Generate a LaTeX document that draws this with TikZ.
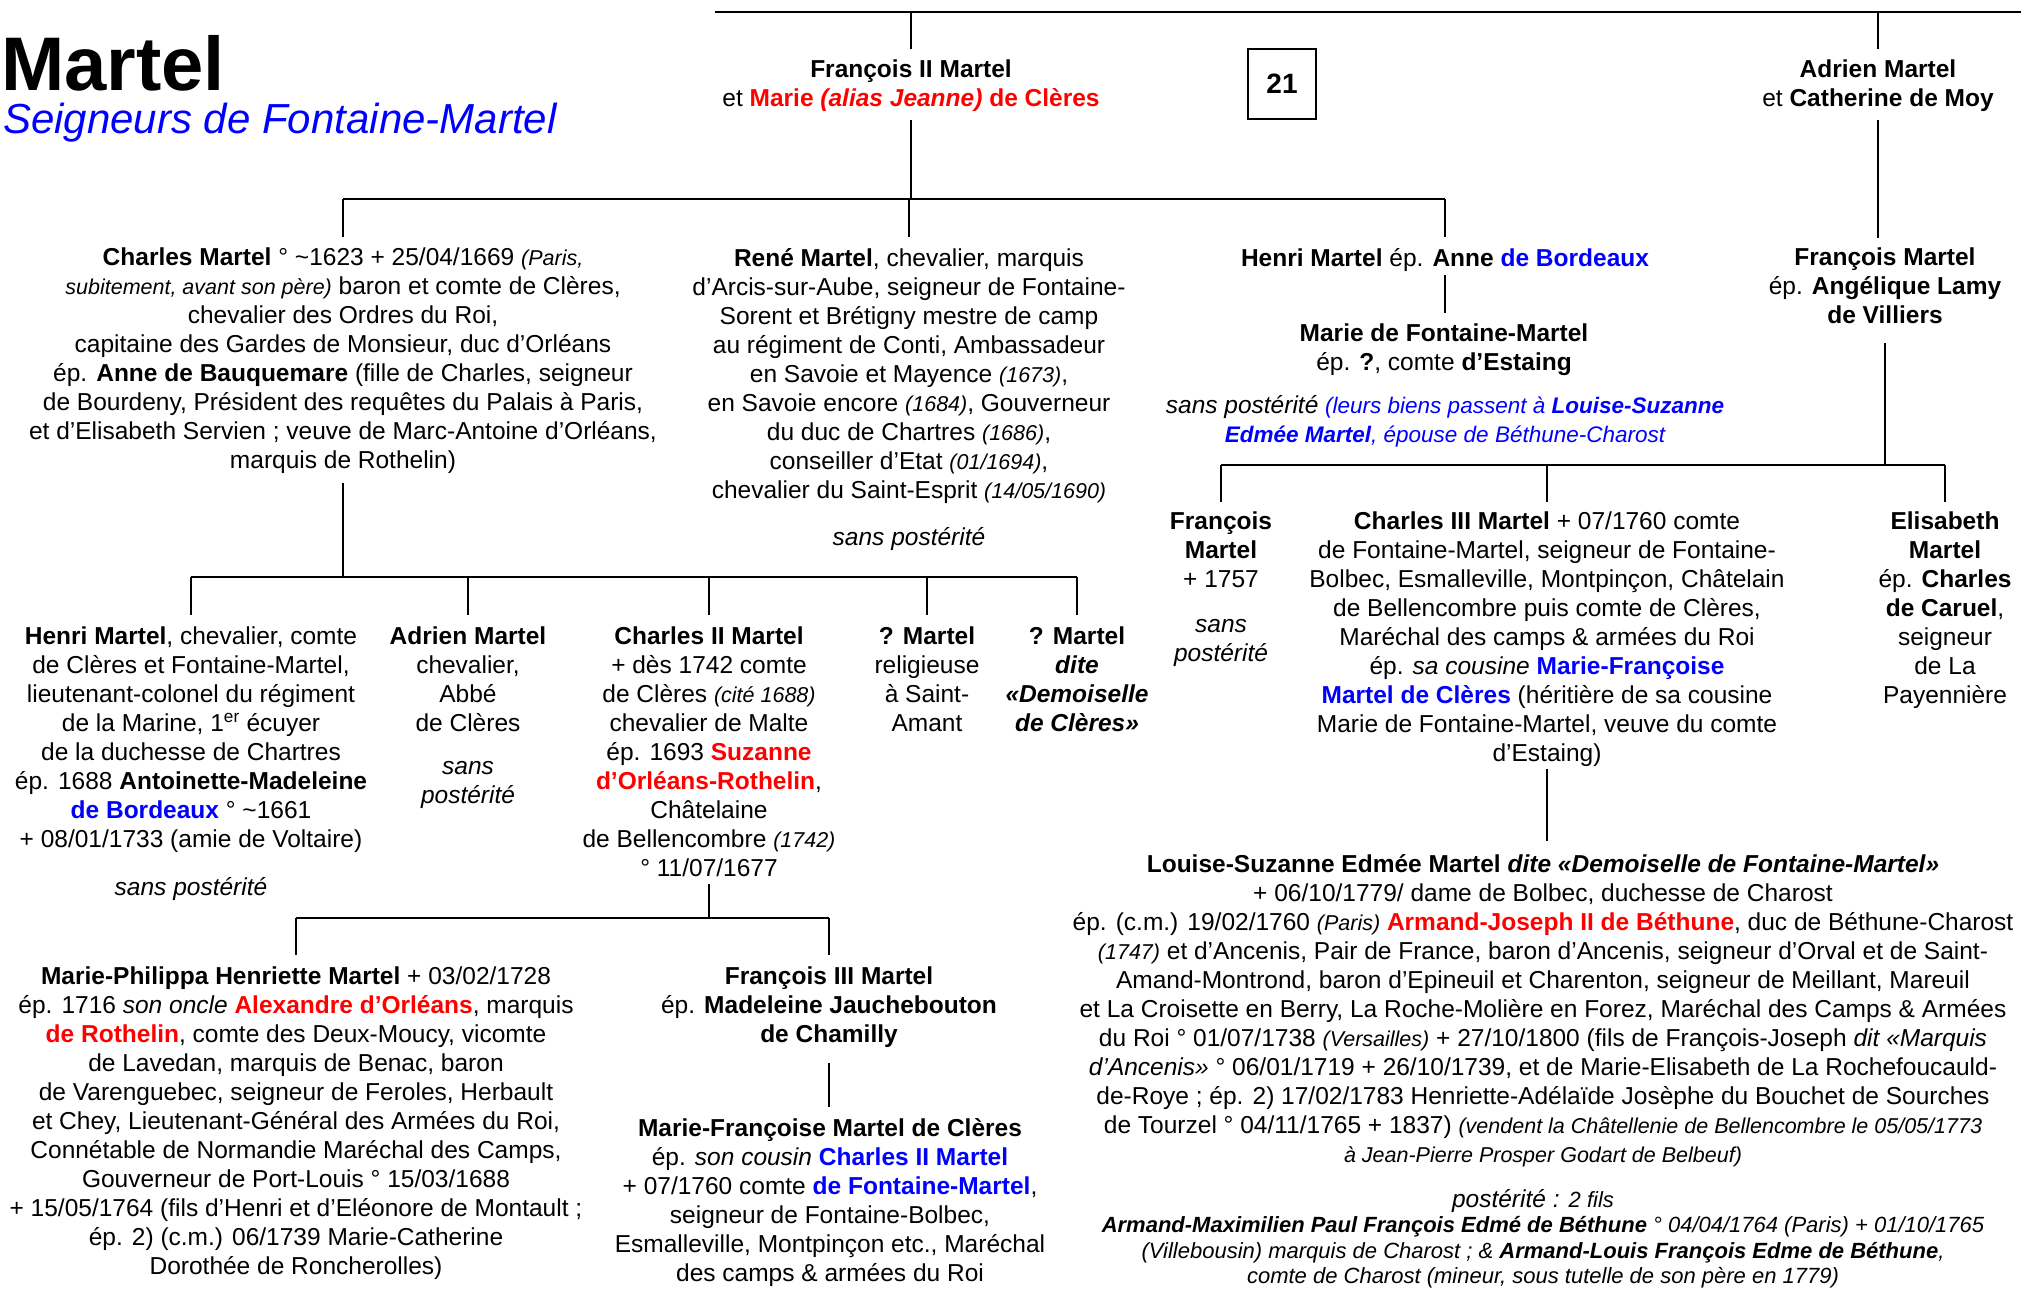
\documentclass[tikz,border=0pt]{standalone}
\usepackage{fontspec}
\setmainfont{Liberation Sans}
\usepackage{xcolor}
\definecolor{myred}{RGB}{255,0,0}
\definecolor{myblue}{RGB}{0,0,255}
\newcommand\fs{\fontsize{24.5}{29}\selectfont}
\newcommand\smit[1]{{\fontsize{21.5}{29}\selectfont\itshape #1}}
\newcommand\blit[1]{{\fontsize{22.5}{29}\selectfont\itshape\color{myblue}#1}}
\newcommand\redb[1]{\textcolor{myred}{\textbf{#1}}}
\newcommand\blueb[1]{\textcolor{myblue}{\textbf{#1}}}

\begin{document}
\begin{tikzpicture}[x=1pt,y=-1pt,
  pers/.style={align=center,inner sep=0pt,anchor=north,font=\fs},
  tree/.style={line width=2.2}]
\useasboundingbox (0,0) rectangle (2021,1288);

\coordinate (topL) at (715,12);
\coordinate (topR) at (2021,12);

\node[anchor=west,inner sep=0pt,font=\fontsize{76}{80}\selectfont\bfseries] (title) at (1,63) {Martel};
\node[anchor=base west,inner sep=0pt,font=\fontsize{42}{48}\selectfont\itshape,text=myblue] (subtitle) at (3,133) {Seigneurs de Fontaine-Martel};

\node[pers] (couple1) at (911,60) {\textbf{François II Martel}\\et \redb{Marie \textit{(alias Jeanne)} de Clères}};
\node[draw,line width=1.2,minimum width=68,minimum height=70,inner sep=0pt,font=\fontsize{28}{32}\selectfont\bfseries] (num) at (1282,84) {21};
\node[pers] (couple2) at (1878,60) {\textbf{Adrien Martel}\\et \textbf{Catherine de Moy}};

\node[pers] (charles) at (343,248) {\textbf{Charles Martel} ° \textasciitilde1623 + 25/04/1669 \smit{(Paris,}\\
  \smit{subitement, avant son père)} baron et comte de Clères,\\
  chevalier des Ordres du Roi,\\
  capitaine des Gardes de Monsieur, duc d’Orléans\\
  ép. \textbf{Anne de Bauquemare} (fille de Charles, seigneur\\
  de Bourdeny, Président des requêtes du Palais à Paris,\\
  et d’Elisabeth Servien ; veuve de Marc-Antoine d’Orléans,\\
  marquis de Rothelin)};
\node[pers] (rene) at (909,248) {\textbf{René Martel}, chevalier, marquis\\
  d’Arcis-sur-Aube, seigneur de Fontaine-\\
  Sorent et Brétigny mestre de camp\\
  au régiment de Conti, Ambassadeur\\
  en Savoie et Mayence \smit{(1673)},\\
  en Savoie encore \smit{(1684)}, Gouverneur\\
  du duc de Chartres \smit{(1686)},\\
  conseiller d’Etat \smit{(01/1694)},\\
  chevalier du Saint-Esprit \smit{(14/05/1690)}};
\node[pers,font=\fs\itshape] (renesp) at (909,527) {sans postérité};
\node[pers] (henri1) at (1445,248) {\textbf{Henri Martel} ép. \textbf{Anne} \blueb{de Bordeaux}};
\node[pers] (mariefm) at (1444,324) {\textbf{Marie de Fontaine-Martel}\\ép. \textbf{?}, comte \textbf{d’Estaing}};
\node[pers] (mfmsp) at (1445,395) {\textit{sans postérité} \blit{(leurs biens passent à \textbf{Louise-Suzanne}}\\
  \blit{\textbf{Edmée Martel}, épouse de Béthune-Charost}};
\node[pers] (fmartel) at (1885,248) {\textbf{François Martel}\\ép. \textbf{Angélique Lamy}\\\textbf{de Villiers}};

\node[pers] (fm1757) at (1221,512) {\textbf{François}\\\textbf{Martel}\\+ 1757};
\node[pers,font=\fs\itshape] (fm1757sp) at (1221,619) {sans\\postérité};
\node[pers] (charles3) at (1547,512) {\textbf{Charles III Martel} + 07/1760 comte\\
  de Fontaine-Martel, seigneur de Fontaine-\\
  Bolbec, Esmalleville, Montpinçon, Châtelain\\
  de Bellencombre puis comte de Clères,\\
  Maréchal des camps \& armées du Roi\\
  ép. \textit{sa cousine} \blueb{Marie-Françoise}\\
  \blueb{Martel de Clères} (héritière de sa cousine\\
  Marie de Fontaine-Martel, veuve du comte\\
  d’Estaing)};
\node[pers] (elisab) at (1945,512) {\textbf{Elisabeth}\\\textbf{Martel}\\ép. \textbf{Charles}\\\textbf{de Caruel},\\seigneur\\de La\\Payennière};

\node[pers] (louise) at (1543,854) {\textbf{Louise-Suzanne Edmée Martel \textit{dite «Demoiselle de Fontaine-Martel»}}\\
  + 06/10/1779/ dame de Bolbec, duchesse de Charost\\
  ép. (c.m.) 19/02/1760 \smit{(Paris)} \redb{Armand-Joseph II de Béthune}, duc de Béthune-Charost\\
  \smit{(1747)} et d’Ancenis, Pair de France, baron d’Ancenis, seigneur d’Orval et de Saint-\\
  Amand-Montrond, baron d’Epineuil et Charenton, seigneur de Meillant, Mareuil\\
  et La Croisette en Berry, La Roche-Molière en Forez, Maréchal des Camps \& Armées\\
  du Roi ° 01/07/1738 \smit{(Versailles)} + 27/10/1800 (fils de François-Joseph \textit{dit «Marquis}\\
  \textit{d’Ancenis»} ° 06/01/1719 + 26/10/1739, et de Marie-Elisabeth de La Rochefoucauld-\\
  de-Roye ; ép. 2) 17/02/1783 Henriette-Adélaïde Josèphe du Bouchet de Sourches\\
  de Tourzel ° 04/11/1765 + 1837) \smit{(vendent la Châtellenie de Bellencombre le 05/05/1773}\\
  \smit{à Jean-Pierre Prosper Godart de Belbeuf)}};
\node[pers,font=\fs\itshape] (post) at (1533,1189) {postérité : {\fontsize{22}{29}\selectfont 2 fils}};
\node[pers,font=\fontsize{22}{25.8}\selectfont\itshape] (fils) at (1543,1216) {\textbf{Armand-Maximilien Paul François Edmé de Béthune} ° 04/04/1764 (Paris) + 01/10/1765\\
  (Villebousin) marquis de Charost ; \& \textbf{Armand-Louis François Edme de Béthune},\\
  comte de Charost (mineur, sous tutelle de son père en 1779)};

\node[pers] (henri2) at (191,627) {\textbf{Henri Martel}, chevalier, comte\\
  de Clères et Fontaine-Martel,\\
  lieutenant-colonel du régiment\\
  de la Marine, 1\textsuperscript{er} écuyer\\
  de la duchesse de Chartres\\
  ép. 1688 \textbf{Antoinette-Madeleine}\\
  \blueb{de Bordeaux} ° \textasciitilde1661\\
  + 08/01/1733 (amie de Voltaire)};
\node[pers,font=\fs\itshape] (henri2sp) at (191,877) {sans postérité};
\node[pers] (adrien) at (468,627) {\textbf{Adrien Martel}\\chevalier,\\Abbé\\de Clères};
\node[pers,font=\fs\itshape] (adriensp) at (468,761) {sans\\postérité};
\node[pers] (charles2) at (709,627) {\textbf{Charles II Martel}\\
  + dès 1742 comte\\
  de Clères \smit{(cité 1688)}\\
  chevalier de Malte\\
  ép. 1693 \redb{Suzanne}\\
  \redb{d’Orléans-Rothelin},\\
  Châtelaine\\
  de Bellencombre \smit{(1742)}\\
  ° 11/07/1677};
\node[pers] (relig) at (927,627) {\textbf{? Martel}\\religieuse\\à Saint-\\Amant};
\node[pers] (demois) at (1077,627) {\textbf{? Martel}\\\textbf{\textit{dite}}\\\textbf{\textit{«Demoiselle}}\\\textbf{\textit{de Clères»}}};

\node[pers] (mphil) at (296,967) {\textbf{Marie-Philippa Henriette Martel} + 03/02/1728\\
  ép. 1716 \textit{son oncle} \redb{Alexandre d’Orléans}, marquis\\
  \redb{de Rothelin}, comte des Deux-Moucy, vicomte\\
  de Lavedan, marquis de Benac, baron\\
  de Varenguebec, seigneur de Feroles, Herbault\\
  et Chey, Lieutenant-Général des Armées du Roi,\\
  Connétable de Normandie Maréchal des Camps,\\
  Gouverneur de Port-Louis ° 15/03/1688\\
  + 15/05/1764 (fils d’Henri et d’Eléonore de Montault ;\\
  ép. 2) (c.m.) 06/1739 Marie-Catherine\\
  Dorothée de Roncherolles)};
\node[pers] (fr3) at (829,967) {\textbf{François III Martel}\\ép. \textbf{Madeleine Jauchebouton}\\\textbf{de Chamilly}};
\node[pers] (mfc) at (830,1118) {\textbf{Marie-Françoise Martel de Clères}\\
  ép. \textit{son cousin} \blueb{Charles II Martel}\\
  + 07/1760 comte \blueb{de Fontaine-Martel},\\
  seigneur de Fontaine-Bolbec,\\
  Esmalleville, Montpinçon etc., Maréchal\\
  des camps \& armées du Roi};

\draw[line width=2.6] (topL) -- (topR);
\draw[tree] (couple1.north |- topL) -- (couple1.north |- 0,49);
\draw[tree] (couple2.north |- topL) -- (couple2.north |- 0,49);
\draw[tree] (couple1.south |- 0,120) -- (couple1.south |- 0,199);
\draw[tree] (couple2.south |- 0,120) -- (couple2.south |- 0,238);
\draw[tree] (charles.north |- 0,199) -- (henri1.north |- 0,199);
\foreach \n in {charles,rene,henri1}
  \draw[tree] (\n.north |- 0,199) -- (\n.north |- 0,237);
\draw[tree] (henri1.south |- 0,275) -- (henri1.south |- 0,313);
\draw[tree] (fmartel.south |- 0,343) -- (fmartel.south |- 0,465);
\draw[tree] (fm1757.north |- 0,465) -- (elisab.north |- 0,465);
\foreach \n in {fm1757,charles3,elisab}
  \draw[tree] (\n.north |- 0,465) -- (\n.north |- 0,502);
\draw[tree] (charles3.south |- 0,769) -- (charles3.south |- 0,841);

\draw[tree] (charles.south |- 0,483) -- (charles.south |- 0,577);
\draw[tree] (henri2.north |- 0,577) -- (demois.north |- 0,577);
\foreach \n in {henri2,adrien,charles2,relig,demois}
  \draw[tree] (\n.north |- 0,577) -- (\n.north |- 0,615);
\draw[tree] (charles2.south |- 0,884) -- (charles2.south |- 0,918);
\draw[tree] (mphil.north |- 0,918) -- (fr3.north |- 0,918);
\foreach \n in {mphil,fr3}
  \draw[tree] (\n.north |- 0,918) -- (\n.north |- 0,955);
\draw[tree] (fr3.south |- 0,1063) -- (fr3.south |- 0,1107);
\end{tikzpicture}
\end{document}
